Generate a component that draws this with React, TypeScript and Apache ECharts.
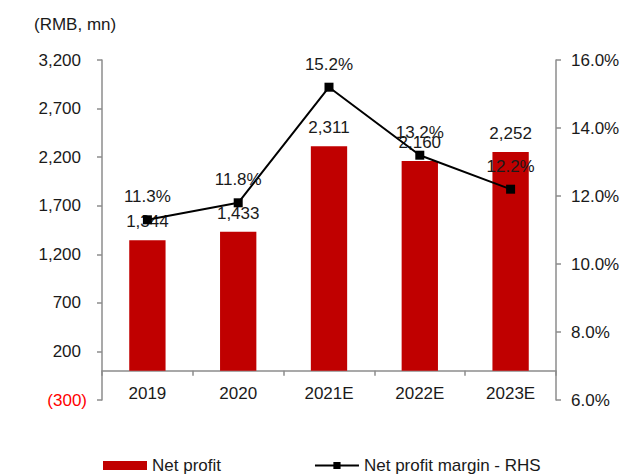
import React, { useEffect, useRef } from "react";
import * as echarts from "echarts";

const categories = ["2019", "2020", "2021E", "2022E", "2023E"];
const netProfit = [1344, 1433, 2311, 2160, 2252];
const netMargin = [11.3, 11.8, 15.2, 13.2, 12.2];
const leftTickValues = [-300, 200, 700, 1200, 1700, 2200, 2700, 3200];
const rightTicks = { min: 6, max: 16, interval: 2 };

const FONT = "'Liberation Sans', Arial, sans-serif";
const TEXT = "#1a1a1a";
const AXIS = "#8c8c8c";

const fmtNum = (v: number) => {
  const s = Math.abs(v).toLocaleString("en-US");
  return v < 0 ? `(${s})` : s;
};

export default function App() {
  const ref = useRef<HTMLDivElement>(null);
  useEffect(() => {
    if (!ref.current) return;
    const chart = echarts.init(ref.current, null, { renderer: "svg" });
    chart.setOption({
      animation: false,
      textStyle: { fontFamily: FONT },
      title: {
        text: "(RMB, mn)",
        left: 29,
        top: 11,
        textStyle: { fontFamily: FONT, fontSize: 17, fontWeight: "normal", color: TEXT },
      },
      grid: { left: 102, right: 68, top: 60, bottom: 74, containLabel: false },
      legend: {
        left: 103,
        top: 457,
        padding: 0,
        itemWidth: 44,
        itemHeight: 9,
        itemGap: 93,
        textStyle: { fontFamily: FONT, fontSize: 17, color: TEXT },
        data: [
          { name: "Net profit", icon: "rect" },
          { name: "Net profit margin - RHS" },
        ],
      },
      xAxis: {
        type: "category",
        data: categories,
        axisLine: { onZero: true, onZeroAxisIndex: 0, lineStyle: { color: AXIS, width: 1.5 } },
        axisTick: { show: true, length: 5, inside: false, lineStyle: { color: AXIS, width: 1.5 } },
        axisLabel: { fontFamily: FONT, fontSize: 17, color: TEXT, margin: -15 },
      },
      yAxis: [
        {
          type: "value",
          position: "left",
          min: -300,
          max: 3200,
          splitLine: { show: false },
          axisLine: { show: true, lineStyle: { color: AXIS, width: 1.5 } },
          axisTick: { show: true, length: 5, customValues: leftTickValues, lineStyle: { color: AXIS, width: 1.5 } },
          axisLabel: {
            customValues: leftTickValues,
            margin: 15,
            formatter: (v: number) => (v < 0 ? `{n|${fmtNum(v)}}` : `{p|${fmtNum(v)}}`),
            rich: {
              p: { fontFamily: FONT, fontSize: 17, color: TEXT, padding: [0, 6, 0, 0] },
              n: { fontFamily: FONT, fontSize: 17, color: "#ff0000" },
            },
          },
        },
        {
          type: "value",
          position: "right",
          min: rightTicks.min,
          max: rightTicks.max,
          interval: rightTicks.interval,
          splitLine: { show: false },
          axisLine: { show: true, lineStyle: { color: AXIS, width: 1.5 } },
          axisTick: { show: true, length: 5, lineStyle: { color: AXIS, width: 1.5 } },
          axisLabel: {
            margin: 15,
            fontFamily: FONT,
            fontSize: 17,
            color: TEXT,
            formatter: (v: number) => `${v.toFixed(1)}%`,
          },
        },
      ],
      series: [
        {
          name: "Net profit",
          type: "bar",
          data: netProfit,
          yAxisIndex: 0,
          barWidth: "40%",
          itemStyle: { color: "#c00000" },
          label: {
            show: true,
            position: "top",
            distance: 10,
            fontFamily: FONT,
            fontSize: 17,
            color: TEXT,
            formatter: (p: any) => fmtNum(p.value),
          },
          z: 2,
        },
        {
          name: "Net profit margin - RHS",
          type: "line",
          data: netMargin,
          yAxisIndex: 1,
          symbol: "rect",
          symbolSize: 9,
          lineStyle: { color: "#000", width: 2 },
          itemStyle: { color: "#000" },
          label: {
            show: true,
            position: "top",
            distance: 10,
            fontFamily: FONT,
            fontSize: 17,
            color: TEXT,
            formatter: (p: any) => `${p.value.toFixed(1)}%`,
          },
          z: 3,
        },
      ],
    });
    return () => chart.dispose();
  }, []);
  return (
    <div
      ref={ref}
      style={{ position: "fixed", left: 0, top: 0, width: 624, height: 474, background: "#fff" }}
    />
  );
}
